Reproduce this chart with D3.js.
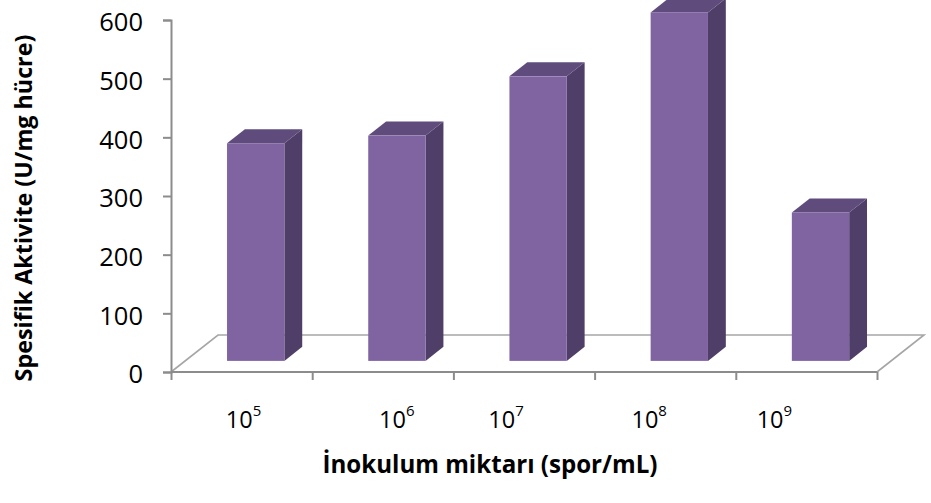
<!DOCTYPE html>
<html>
<head>
<meta charset="utf-8">
<script src="https://cdn.jsdelivr.net/npm/d3@7"></script>
<style>
  html, body { margin: 0; padding: 0; background: #ffffff; }
  svg { display: block; font-family: "Open Sans", "Noto Sans", sans-serif; }
</style>
</head>
<body>
<svg id="chart" width="931" height="503"></svg>
<script>
// Inoculum amounts (powers of ten) and specific activity values
const categories = ["5", "6", "7", "8", "9"];
const values = [371, 384, 485, 594, 253];
const yTicks = [0, 100, 200, 300, 400, 500, 600];
const yTitle = "Spesifik Aktivite (U/mg hücre)";
const xTitle = "İnokulum miktarı (spor/mL)";

const svg = d3.select("#chart");

// Plot geometry (front plane of the 3D floor)
const plotLeft = 171, plotRight = 877, plotBottom = 372, plotTop = 20;
const depthX = 47, depthY = -37;      // full floor depth offset
const barFront = 0.3, barDepth = 0.38; // bar position inside the depth
const barWidthFrac = 0.406;
// horizontal nudges of the category labels
const labelNudge = [2, 14, -18, -16, -32];

const x = d3.scaleBand().domain(categories).range([plotLeft, plotRight]).padding(0);
const y = d3.scaleLinear().domain([0, 600]).range([plotBottom, plotTop]);

const axisColor = "#8c8c8c";
const frontCol = "#8064a2", sideCol = "#4f3e68", topCol = "#5f4b7c";

// Floor of the 3D plot
svg.append("path")
  .attr("fill", "none").attr("stroke", "#a6a6a6").attr("stroke-width", 1.6)
  .attr("d", d3.line()([
    [plotLeft, plotBottom], [plotLeft + depthX, plotBottom + depthY],
    [plotRight + depthX, plotBottom + depthY], [plotRight, plotBottom]
  ]));

// Y axis
const yAxis = svg.append("g")
  .attr("transform", `translate(${plotLeft},0)`)
  .call(d3.axisLeft(y).tickValues(yTicks).tickSize(8).tickPadding(20).tickFormat(d3.format("d")));
yAxis.select(".domain").attr("stroke", axisColor).attr("stroke-width", 2);
yAxis.selectAll(".tick line").attr("stroke", axisColor).attr("stroke-width", 2);
yAxis.selectAll(".tick text")
  .attr("font-size", 25.5).attr("fill", "#000")
  .attr("font-family", "'Open Sans', sans-serif")
  .attr("dy", "0.42em");

// X axis ticks at category boundaries
const boundaries = d3.range(categories.length + 1);
const xb = d3.scaleLinear().domain([0, categories.length]).range([plotLeft, plotRight]);
const xAxis = svg.append("g")
  .attr("transform", `translate(0,${plotBottom})`)
  .call(d3.axisBottom(xb).tickValues(boundaries).tickSize(8).tickFormat(""));
xAxis.select(".domain").attr("stroke", axisColor).attr("stroke-width", 2).attr("d", `M${plotLeft},0H${plotRight}`);
xAxis.selectAll(".tick line").attr("stroke", axisColor).attr("stroke-width", 2);

// 3D bars
const bw = x.bandwidth() * barWidthFrac;
const fdx = depthX * barFront, fdy = depthY * barFront;
const sdx = depthX * barDepth, sdy = depthY * barDepth;

const bars = svg.append("g").selectAll("g").data(categories.map((c, i) => ({ c, v: values[i] })))
  .join("g");

bars.each(function(d) {
  const g = d3.select(this);
  const cx = x(d.c) + x.bandwidth() / 2 + fdx;
  const x0 = cx - bw / 2, x1 = cx + bw / 2;
  const yb = y(0) + fdy, yTopFace = y(d.v) + fdy;
  // side face
  g.append("path").attr("fill", sideCol).attr("d", d3.line()([
    [x1, yb], [x1 + sdx, yb + sdy], [x1 + sdx, yTopFace + sdy], [x1, yTopFace]
  ]) + "Z");
  // top face
  g.append("path").attr("fill", topCol).attr("d", d3.line()([
    [x0, yTopFace], [x0 + sdx, yTopFace + sdy], [x1 + sdx, yTopFace + sdy], [x1, yTopFace]
  ]) + "Z");
  // front face
  g.append("rect").attr("fill", frontCol)
    .attr("x", x0).attr("y", yTopFace).attr("width", bw).attr("height", yb - yTopFace);
});

// Category labels: 10 with superscript exponent
const labels = svg.append("g").selectAll("text").data(categories).join("text")
  .attr("x", (d, i) => x(d) + x.bandwidth() / 2 + labelNudge[i])
  .attr("y", 428)
  .attr("text-anchor", "middle")
  .attr("font-size", 23.5)
  .attr("fill", "#000");
labels.append("tspan").text("10");
labels.append("tspan").attr("font-size", 15).attr("dy", -12).text(d => d);

// Fit a title's font size to a target width
function fit(sel, target, start) {
  sel.attr("font-size", start);
  const w = sel.node().getComputedTextLength();
  sel.attr("font-size", start * target / w);
}

const yTitleText = svg.append("text")
  .attr("transform", "translate(32,208) rotate(-90)")
  .attr("text-anchor", "middle")
  .attr("font-weight", "bold")
  .attr("fill", "#000")
  .text(yTitle);
fit(yTitleText, 347, 22);

const xTitleText = svg.append("text")
  .attr("x", 490).attr("y", 473)
  .attr("text-anchor", "middle")
  .attr("font-weight", "bold")
  .attr("fill", "#000")
  .text(xTitle);
fit(xTitleText, 335, 22);
</script>
</body>
</html>
